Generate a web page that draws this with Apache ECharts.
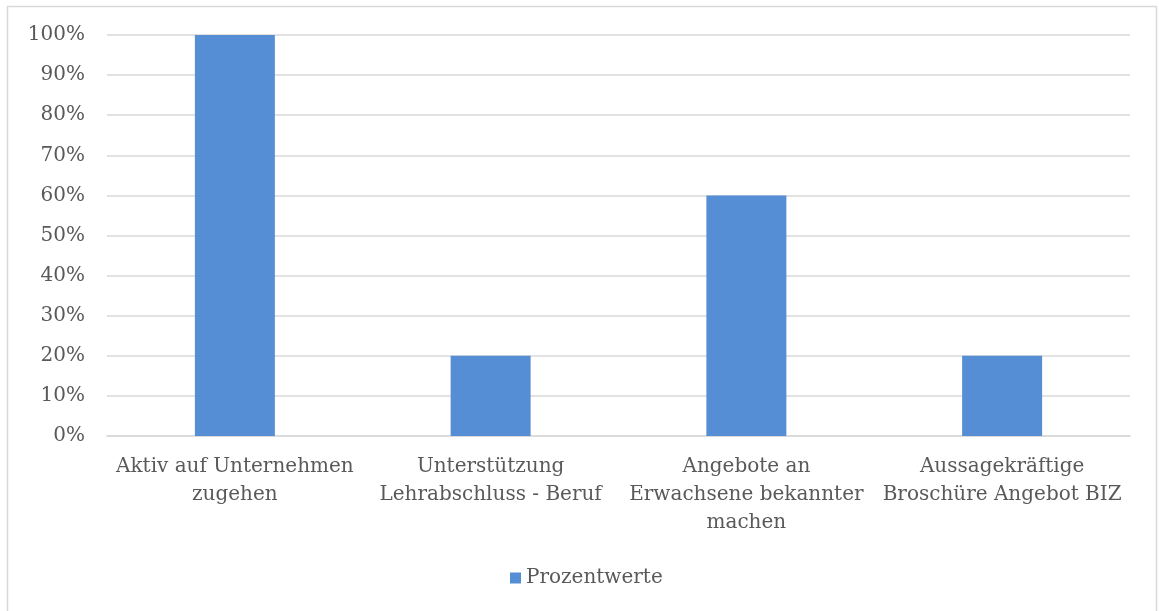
<!DOCTYPE html>
<html>
<head>
<meta charset="utf-8">
<script src="https://cdn.jsdelivr.net/npm/echarts@6/dist/echarts.min.js"></script>
<style>
  html, body { margin: 0; padding: 0; background: #fff; }
  #chart { width: 1159px; height: 611px; }
</style>
</head>
<body>
<div id="chart"></div>
<script>
// Categories (line breaks as they appear under the axis)
const categories = [
  'Aktiv auf Unternehmen\nzugehen',
  'Unterstützung\nLehrabschluss - Beruf',
  'Angebote an\nErwachsene bekannter\nmachen',
  'Aussagekräftige\nBroschüre Angebot BIZ'
];
// Share of answers, in percent
const prozentwerte = [100, 20, 60, 20];
const seriesName = 'Prozentwerte';

const FONT = '"DejaVu Serif", serif';
const TEXT = '#595959';

const chart = echarts.init(document.getElementById('chart'), null, { renderer: 'canvas' });
chart.setOption({
  animation: false,
  backgroundColor: '#fff',
  textStyle: { fontFamily: FONT, color: TEXT },
  graphic: [{
    type: 'rect',
    shape: { x: 7.5, y: 6.5, width: 1149, height: 700 },
    style: { fill: 'none', stroke: '#d9d9d9', lineWidth: 1.5 },
    silent: true
  }],
  grid: { left: 107, right: 29, top: 35, bottom: 175, containLabel: false },
  legend: {
    data: [seriesName],
    bottom: 18,
    left: 505,
    icon: 'rect',
    itemWidth: 11,
    itemHeight: 11,
    itemGap: 6,
    textStyle: { fontFamily: FONT, fontSize: 20, color: TEXT }
  },
  xAxis: {
    type: 'category',
    data: categories,
    axisLine: { show: true, lineStyle: { color: '#d9d9d9', width: 1.5 } },
    axisTick: { show: false },
    axisLabel: {
      interval: 0,
      margin: 17,
      fontFamily: FONT,
      fontSize: 20,
      color: TEXT,
      lineHeight: 28
    }
  },
  yAxis: {
    type: 'value',
    min: 0,
    max: 100,
    interval: 10,
    axisLine: { show: false },
    axisTick: { show: false },
    splitLine: { lineStyle: { color: '#d9d9d9', width: 1.5 } },
    axisLabel: {
      margin: 22,
      fontFamily: FONT,
      fontSize: 20,
      color: TEXT,
      padding: [3, 0, 0, 0],
      formatter: v => v + '%'
    }
  },
  series: [{
    name: seriesName,
    type: 'bar',
    data: prozentwerte,
    barWidth: 80,
    itemStyle: { color: '#558ed5' }
  }]
});
</script>
</body>
</html>
